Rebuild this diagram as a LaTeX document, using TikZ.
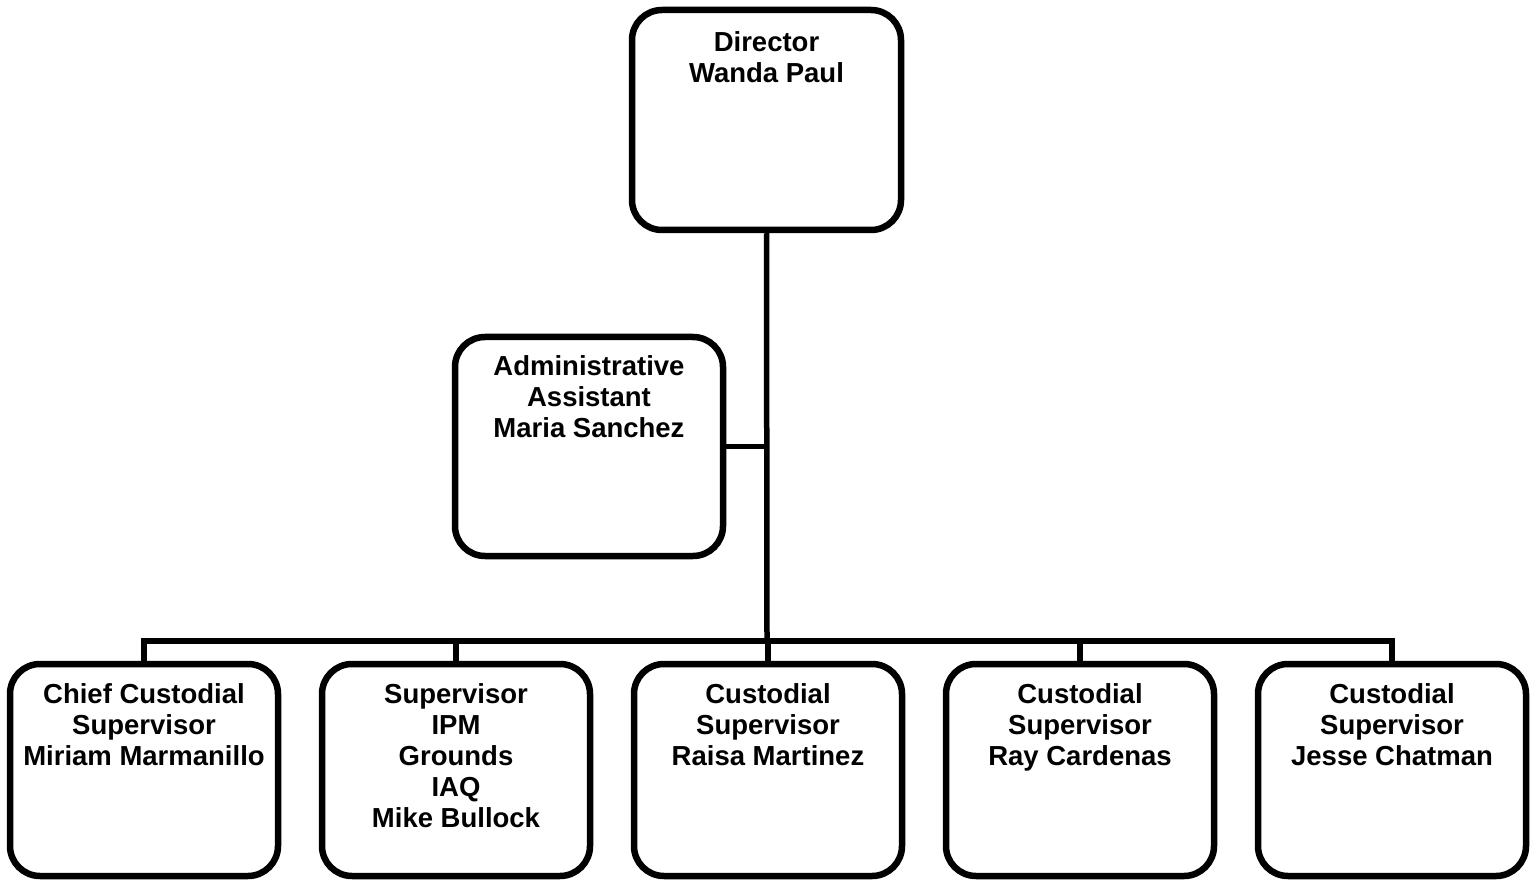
\documentclass[tikz,border=0pt]{standalone}
\usepackage{fontspec}
\setmainfont{Liberation Sans}
\begin{document}
\begin{tikzpicture}[x=1pt,y=-1pt,
  orgbox/.style={draw=black, line width=6.5pt, rounded corners=30pt, fill=white, minimum width=268pt, inner sep=0pt},
  lbl/.style={anchor=north, align=center, inner sep=0pt, font={\fontsize{27.5pt}{31pt}\selectfont\bfseries}},
  conn/.style={draw=black, line width=5.5pt}]
\useasboundingbox (0,0) rectangle (1533,882);
% boxes
\node[orgbox, minimum width=269pt, minimum height=220pt] (dir) at (766.5,120) {};
\node[orgbox, minimum height=219pt] (adm) at (589,446.5) {};
\node[orgbox, minimum height=212pt] (b1) at (144,770) {};
\node[orgbox, minimum height=212pt] (b2) at (456,770) {};
\node[orgbox, minimum height=212pt] (b3) at (768,770) {};
\node[orgbox, minimum height=212pt] (b4) at (1080,770) {};
\node[orgbox, minimum height=212pt] (b5) at (1392,770) {};
% labels
\node[lbl] (tdir) at ([yshift=-25pt]dir.north) {Director\\Wanda Paul};
\node[lbl] (tadm) at ([yshift=-22pt]adm.north) {Administrative\\Assistant\\Maria Sanchez};
\node[lbl] (t1) at ([yshift=-23pt]b1.north) {Chief Custodial\\Supervisor\\Miriam Marmanillo};
\node[lbl] (t2) at ([yshift=-23pt]b2.north) {Supervisor\\IPM\\Grounds\\IAQ\\Mike Bullock};
\node[lbl] (t3) at ([yshift=-23pt]b3.north) {Custodial\\Supervisor\\Raisa Martinez};
\node[lbl] (t4) at ([yshift=-23pt]b4.north) {Custodial\\Supervisor\\Ray Cardenas};
\node[lbl] (t5) at ([yshift=-23pt]b5.north) {Custodial\\Supervisor\\Jesse Chatman};
% connectors
\coordinate (bus) at (767,641);
\path[conn] (dir.south) -- (bus);
\path[conn] (adm.east) -- (adm.east -| bus);
\foreach \b in {b1,b2,b3,b4,b5} {\path[conn] (\b.north) |- (bus);}
\end{tikzpicture}
\end{document}
